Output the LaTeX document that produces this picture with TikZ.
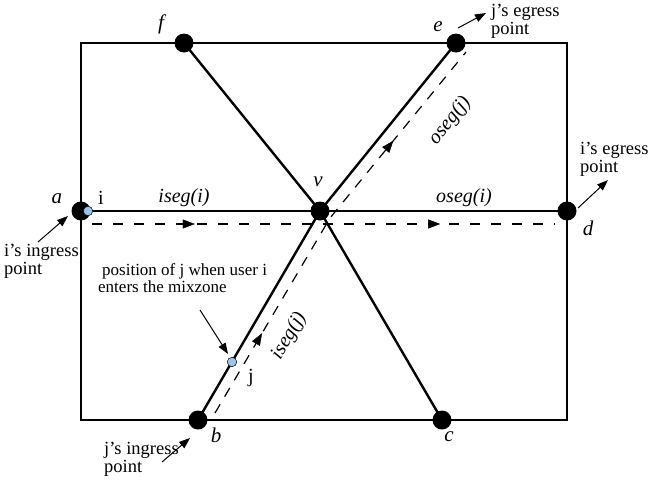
\documentclass[tikz,border=0pt]{standalone}
\usepackage{fontspec}
\setmainfont{Liberation Serif}
\usetikzlibrary{arrows.meta,decorations.markings,calc}
\definecolor{dotblue}{HTML}{9DC3E6}
\newcommand\sq{\char39\relax}
\tikzset{
  bigdot/.style={circle,fill=black,inner sep=0pt,minimum size=19pt},
  smalldot/.style={circle,fill=dotblue,draw=black,line width=0.5pt,inner sep=0pt,minimum size=9.5pt},
  road/.style={line width=2.4pt},
  hdash/.style={line width=1.8pt,dash pattern=on 10pt off 11pt},
  ddash/.style={line width=1.2pt,dash pattern=on 10pt off 9pt},
  twoarrows/.style 2 args={decorate,decoration={markings,
    mark=at position #1 with {\arrow{Triangle[length=12pt,width=9pt]}},
    mark=at position #2 with {\arrow{Triangle[length=12pt,width=9pt]}}}},
  ptr/.style={line width=1pt,-{Triangle[length=11pt,width=8pt]}},
  lbl/.style={font=\fontsize{21}{21}\selectfont\itshape,inner sep=0pt},
  seglbl/.style={font=\fontsize{20}{20}\selectfont\itshape,inner sep=0pt},
  note/.style={font=\fontsize{18.5}{18}\selectfont,inner sep=0pt,align=left},
  smallnote/.style={font=\fontsize{17}{17}\selectfont,inner sep=0pt,align=left}
}
\begin{document}
\begin{tikzpicture}[x=1pt,y=-1pt]
\useasboundingbox (0,0) rectangle (649,485);
% frame
\draw[road] (81,43) rectangle (567,420);
% nodes
\coordinate (a) at (81,211);
\coordinate (v) at (320,211);
\coordinate (d) at (567,211);
\coordinate (f) at (184,43);
\coordinate (e) at (456,43);
\coordinate (b) at (198,420);
\coordinate (c) at (442,420);
\coordinate (ijpos) at (232,362);
% roads
\draw[road] (a) -- (v) -- (d);
\draw[road] (f) -- (v) -- (c);
\draw[road] (b) -- (v) -- (e);
% dashed trajectories
\coordinate (hs) at (92,224);
\coordinate (he) at (555,224);
\coordinate (dbs) at (215,413);
\coordinate (dm) at (330,218);
\coordinate (des) at (466,52);
\draw[hdash] (hs) -- (he);
\draw[ddash] (dbs) -- (dm) -- (des);
% mid arrows
\path[twoarrows={0.222}{0.752}] (hs) -- (he);
\path[twoarrows={0.21}{0.74}] (dbs) -- (dm) -- (des);
% dots
\node[bigdot] (na) at (a) {};
\node[bigdot] (nv) at (v) {};
\node[bigdot] (nd) at (d) {};
\node[bigdot] (nf) at (f) {};
\node[bigdot] (ne) at (e) {};
\node[bigdot] (nb) at (b) {};
\node[bigdot] (nc) at (c) {};
\node[smalldot] (ni) at (88,211) {};
\node[smalldot] (nj) at (ijpos) {};
% labels
\node[lbl] (la) at (57,199) {a};
\node[lbl] (lf) at (161,24) {f};
\node[lbl] (le) at (438,27) {e};
\node[lbl] (lv) at (318,182) {v};
\node[lbl] (ld) at (588,228) {d};
\node[lbl] (lb) at (216,435) {b};
\node[lbl] (lc) at (449,437) {c};
\node[font=\fontsize{20}{20}\selectfont,inner sep=0pt] (li) at (101,198) {i};
\node[font=\fontsize{20}{20}\selectfont,inner sep=0pt] (lj) at (251,378) {j};
\node[seglbl] (isi) at (184,198) {iseg(i)};
\node[seglbl] (osi) at (464,198) {oseg(i)};
\node[seglbl,rotate=60] (isj) at (289,336) {iseg(j)};
\node[seglbl,rotate=52] (osj) at (450,121) {oseg(j)};
% annotations
\node[note,anchor=west] (jeg) at (491,21) {j\sq s egress\\point};
\node[note,anchor=west] (ieg) at (580,159) {i\sq s egress\\point};
\node[note,anchor=west] (iin) at (4,261) {i\sq s ingress\\point};
\node[note,anchor=west] (jin) at (104,459) {j\sq s ingress\\point};
\node[smallnote,anchor=west] (pos) at (98,278) {\hspace*{4pt}position of j when user i\\enters the mixzone};
% pointer arrows
\coordinate (t1) at (38,242); \coordinate (h1) at (68,216);
\coordinate (t2) at (162,462); \coordinate (h2) at (190,438);
\coordinate (t3) at (458,28); \coordinate (h3) at (486,13);
\coordinate (t4) at (578,208); \coordinate (h4) at (608,180);
\coordinate (t5) at (200,310); \coordinate (h5) at (228,354);
\draw[ptr] (t1) -- (h1);
\draw[ptr] (t2) -- (h2);
\draw[ptr] (t3) -- (h3);
\draw[ptr] (t4) -- (h4);
\draw[ptr] (t5) -- (h5);
\end{tikzpicture}
\end{document}
